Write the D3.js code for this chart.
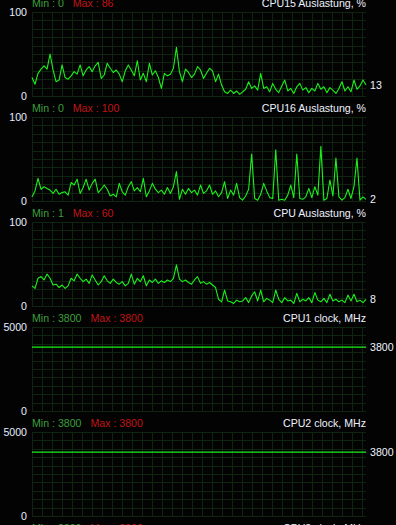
<!DOCTYPE html>
<html>
<head>
<meta charset="utf-8">
<script src="https://cdn.jsdelivr.net/npm/d3@7"></script>
<style>
  body { margin: 0; background: #000; overflow: hidden; }
  svg { display: block; }
  text { font-family: "Liberation Sans", Arial, sans-serif; font-size: 10.6px; }
</style>
</head>
<body>
<div id="chart"></div>
<script>
// --- DATA ---
var titles = ["CPU15 Auslastung, %", "CPU16 Auslastung, %", "CPU Auslastung, %",
              "CPU1 clock, MHz", "CPU2 clock, MHz", "CPU3 clock, MHz"];
var minValues = [0, 0, 1, 3800, 3800, 3800];
var maxValues = [86, 100, 60, 3800, 3800, 3800];
var axisMax = [100, 100, 100, 5000, 5000, 5000];

var cpu15 = [22, 14, 27, 32, 36, 32, 50, 31, 17, 19, 37, 22, 20, 24, 29, 26, 37, 24, 31, 35,
  29, 36, 40, 21, 25, 39, 33, 28, 31, 26, 17, 30, 37, 31, 24, 42, 19, 27, 17, 39,
  25, 30, 22, 9, 27, 24, 26, 33, 58, 29, 17, 32, 28, 22, 26, 35, 31, 21, 27, 33,
  30, 17, 26, 13, 5, 3, 7, 3, 6, 2, 5, 8, 17, 9, 12, 7, 27, 9, 11, 5,
  15, 8, 4, 12, 19, 6, 9, 3, 11, 15, 7, 10, 4, 9, 6, 15, 8, 11, 4, 10,
  7, 3, 9, 17, 6, 11, 5, 19, 8, 12, 19, 13];

var cpu16 = [5, 12, 27, 14, 17, 15, 13, 9, 14, 8, 10, 11, 7, 22, 19, 26, 9, 16, 26, 13,
  21, 26, 10, 14, 19, 14, 6, 8, 5, 21, 11, 7, 17, 23, 12, 16, 11, 27, 5, 12,
  21, 14, 10, 13, 8, 16, 9, 17, 35, 2, 14, 8, 15, 10, 13, 7, 19, 9, 12, 19,
  8, 12, 5, 10, 23, 3, 13, 7, 21, 4, 1, 6, 14, 56, 3, 1, 8, 21, 12, 4,
  3, 61, 1, 2, 1, 7, 19, 4, 56, 3, 2, 5, 15, 4, 17, 7, 65, 1, 3, 25,
  6, 51, 5, 1, 4, 14, 3, 17, 51, 1, 5, 2];

var cpuTotal = [24, 21, 33, 35, 31, 38, 33, 25, 26, 22, 25, 21, 24, 33, 30, 38, 33, 29, 32, 27,
  37, 31, 25, 29, 36, 30, 27, 32, 28, 26, 29, 24, 27, 38, 26, 33, 29, 36, 24, 31,
  28, 32, 27, 30, 28, 31, 29, 33, 49, 32, 29, 31, 28, 26, 31, 35, 27, 29, 26, 28,
  25, 22, 8, 5, 19, 6, 5, 3, 7, 5, 6, 10, 4, 12, 17, 6, 19, 5, 9, 7,
  4, 19, 8, 4, 10, 6, 7, 3, 15, 5, 8, 6, 10, 4, 16, 7, 5, 9, 4, 14,
  6, 8, 5, 7, 4, 13, 6, 14, 5, 7, 4, 8];

var clock1 = [3800, 3800];
var clock2 = [3800, 3800];
var clock3 = [3800, 3800];

var series = [cpu15, cpu16, cpuTotal, clock1, clock2, clock3];

// --- SETUP ---
var width = 396;
var height = 525;
var plotLeft = 32;
var plotRight = 366;
var firstTop = 12;
var plotHeight = 84;
var panelStep = 105;
var gridColor = "#0f250f";

var svg = d3.select("#chart")
  .append("svg")
  .attr("width", width)
  .attr("height", height);

svg.append("rect").attr("width", width).attr("height", height).attr("fill", "#030303");

var line = d3.line()
  .x(d => d[0])
  .y(d => d[1]);

// --- PANELS ---
titles.forEach(function(title, k) {
  var top = firstTop + k * panelStep;
  var bottom = top + plotHeight;
  var data = series[k];

  var x = d3.scaleLinear().domain([0, data.length - 1]).range([plotLeft, plotRight]);
  var y = d3.scaleLinear().domain([0, axisMax[k]]).range([bottom, top]);

  var g = svg.append("g").attr("class", "panel");

  // grid
  var hLines = d3.range(0, 11).map(i => axisMax[k] * i / 10);
  g.selectAll(".hgrid").data(hLines).enter().append("line")
    .attr("x1", plotLeft).attr("x2", plotRight)
    .attr("y1", d => Math.round(y(d)) + 0.5).attr("y2", d => Math.round(y(d)) + 0.5)
    .attr("stroke", gridColor).attr("stroke-width", 1);

  var vLines = d3.range(plotLeft, plotRight, 10);
  g.selectAll(".vgrid").data(vLines).enter().append("line")
    .attr("x1", d => d + 0.5).attr("x2", d => d + 0.5)
    .attr("y1", top).attr("y2", bottom)
    .attr("stroke", gridColor).attr("stroke-width", 1);

  // y axis labels
  var axis = d3.axisLeft(y).tickValues([0, axisMax[k]]).tickFormat(d3.format("d"))
    .tickSize(0).tickPadding(5);
  var ax = g.append("g").attr("transform", "translate(" + plotLeft + ",0)").call(axis);
  ax.select(".domain").remove();
  ax.selectAll("text").attr("fill", "#e6eeff").style("font-size", "10.6px")
    .style("font-family", "'Liberation Sans', Arial, sans-serif");

  // data line
  g.append("path")
    .attr("d", line(data.map((v, i) => [x(i), y(v)])))
    .attr("fill", "none")
    .attr("stroke", "#1cf01c")
    .attr("stroke-width", 1.1)
    .attr("stroke-linejoin", "round");

  // current value
  var last = data[data.length - 1];
  g.append("text")
    .attr("x", plotRight + 4).attr("y", y(last)).attr("dy", "0.35em")
    .attr("fill", "#eef2ff").text(last);

  // header
  var minText = g.append("text")
    .attr("x", plotLeft).attr("y", top - 5)
    .attr("fill", "#3c9f3c").text("Min : " + minValues[k]);
  var minW = minText.node().getComputedTextLength();
  g.append("text")
    .attr("x", plotLeft + minW + 9).attr("y", top - 5)
    .attr("fill", "#c01414").text("Max : " + maxValues[k]);
  g.append("text")
    .attr("x", plotRight).attr("y", top - 5).attr("text-anchor", "end")
    .attr("fill", "#eef2ff").text(title);
});
</script>
</body>
</html>
